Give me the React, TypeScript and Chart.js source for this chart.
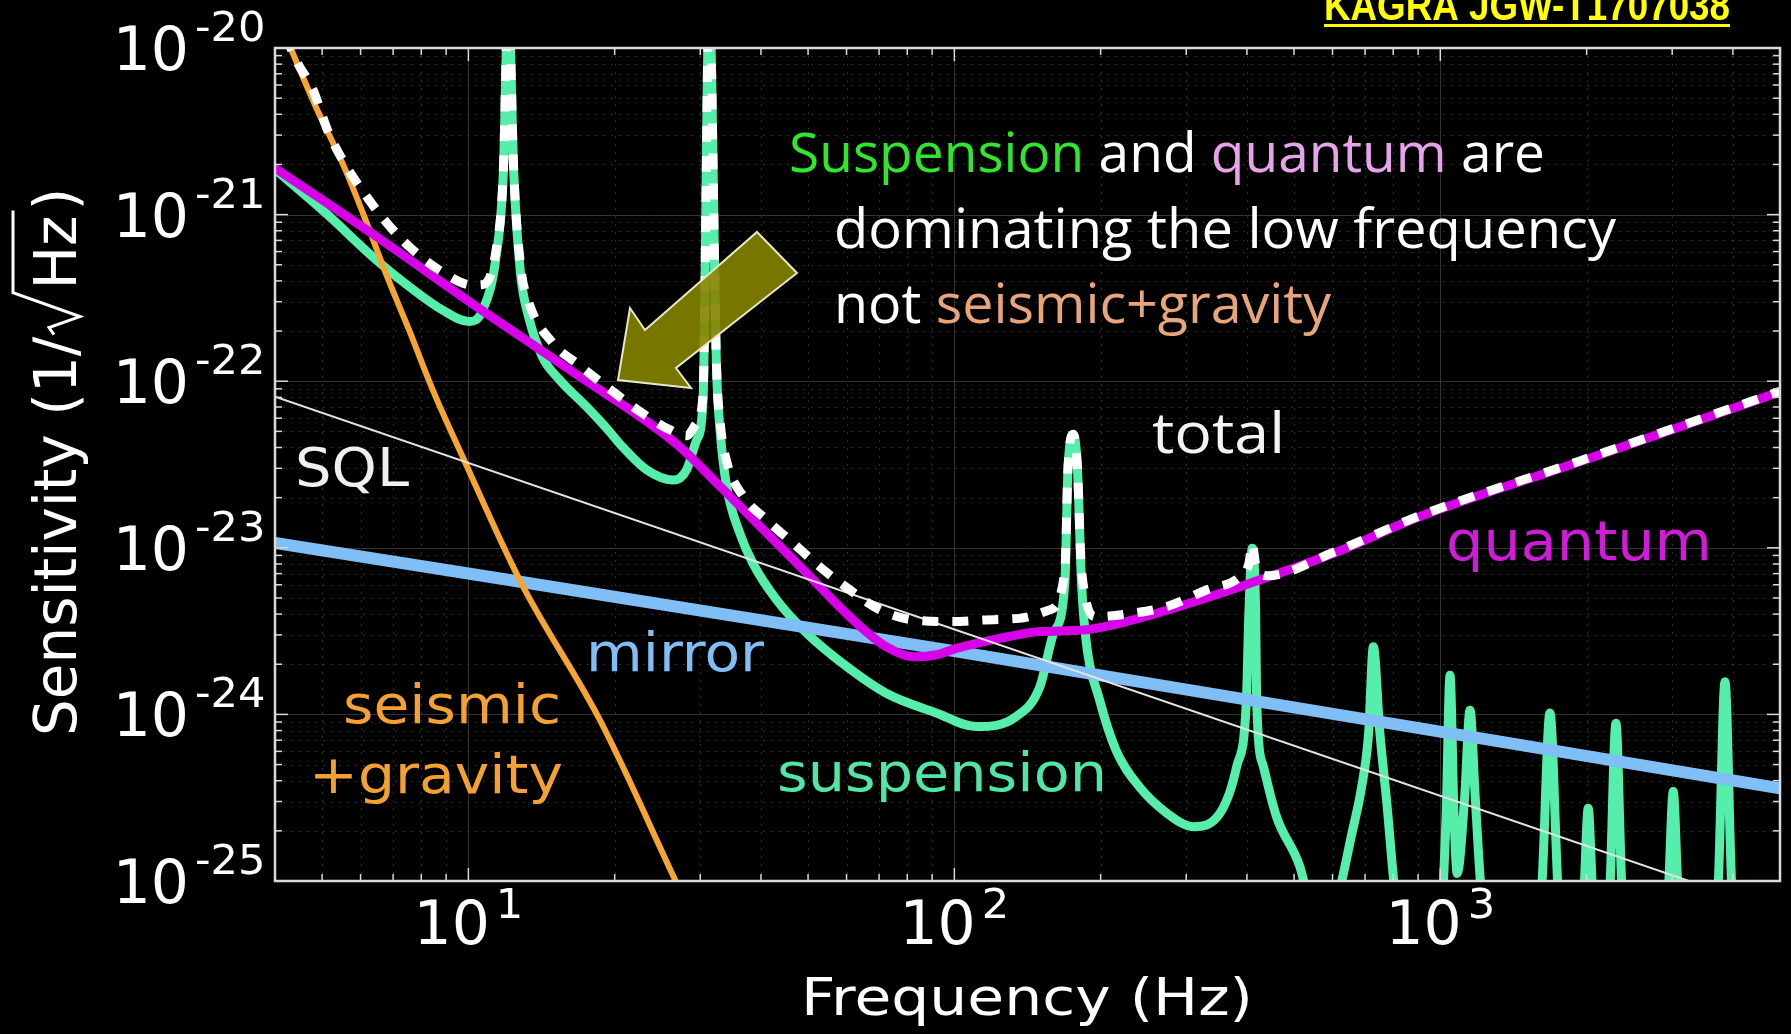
import React, { useEffect, useRef } from "react";
import { Chart, registerables } from "chart.js";

Chart.register(...registerables);

type Pt = [number, number];

// Axis limits: frequency in Hz, strain sensitivity in 1/sqrt(Hz)
const FREQ_MIN = 4;
const FREQ_MAX = 5000;
const SENS_MIN = 1e-25;
const SENS_MAX = 1e-20;

const xTickExponents = [1, 2, 3];
const yTickExponents = [-20, -21, -22, -23, -24, -25];

// Noise budget curves, [frequency (Hz), sensitivity (1/sqrt(Hz))]
const seismicGravity: Pt[] = [
  [4.0, 1.7e-20], [4.32, 9.8e-21], [4.85, 4.45e-21], [5.51, 2.03e-21], [6.11, 9.7e-22],
  [6.76, 4.45e-22], [7.55, 2.03e-22], [8.45, 8.85e-23], [9.73, 3.52e-23], [12.8, 6.27e-24],
  [18.7, 9.1e-25], [26.7, 1.0e-25], [31.6, 3.5e-26],
];

const quantum: Pt[] = [
  [4.0, 1.9e-21], [6.46, 7.4e-22], [10.4, 2.8e-22], [16.6, 1.11e-22], [26.7, 4.24e-23],
  [33.0, 2.33e-23], [40.5, 1.28e-23], [49.7, 7.03e-24], [61.9, 3.69e-24], [72.4, 2.55e-24],
  [82.2, 2.22e-24], [91.8, 2.28e-24], [101, 2.49e-24], [124, 2.86e-24], [150, 3.14e-24],
  [184, 3.21e-24], [233, 3.69e-24], [320, 4.86e-24], [406, 6.12e-24], [603, 9.27e-24],
  [908, 1.54e-23], [1936, 3.29e-23], [5000, 8.63e-23],
];

const suspension: Pt[] = [
  [4.0, 1.87e-21], [5.09, 1.02e-21], [6.46, 5.35e-22], [7.55, 3.7e-22], [8.85, 2.67e-22],
  [10.05, 2.28e-22], [10.7, 2.67e-22], [11.4, 5.58e-22], [11.8, 1.77e-21], [12.08, 2e-20],
  [12.4, 1.77e-21], [12.8, 4.45e-22], [13.3, 2.44e-22], [14.2, 1.4e-22], [15.4, 1.02e-22],
  [17.5, 7.03e-23], [19.5, 5.0e-23], [20.5, 4.2e-23], [23.3, 2.93e-23], [26.4, 2.55e-23],
  [28.1, 2.93e-23], [29.5, 4.44e-23], [30.4, 7.71e-23], [31.3, 2e-20], [32.4, 1.22e-22],
  [33.0, 4.86e-23], [34.0, 2.33e-23], [36.2, 1.22e-23], [38.5, 8.07e-24], [43.1, 4.86e-24],
  [49.7, 3.07e-24], [60.0, 1.94e-24], [72.4, 1.34e-24], [91.8, 1.02e-24], [111, 8.45e-25],
  [134, 9.7e-25], [150, 1.47e-24], [160, 3.07e-24], [168.8, 6.12e-24], [171.4, 3.07e-23],
  [175.8, 4.75e-23], [179.1, 3.07e-23], [182.7, 6.12e-24], [186.6, 2.8e-24], [199, 1.22e-24],
  [215, 6.12e-25], [240, 3.69e-25], [274, 2.55e-25], [310, 2.12e-25], [352, 2.55e-25],
  [381, 4.86e-25], [399, 1.22e-24], [403.6, 3.98e-24], [410.2, 9.93e-24], [416.9, 3.98e-24],
  [418.8, 1.22e-24], [432.5, 4.86e-25], [460, 2.44e-25], [514, 1.22e-25], [540, 7e-26],
  [575, 5e-26], [608, 7e-26], [658, 1.94e-25], [689, 3.69e-25], [712, 7.71e-25],
  [728, 2.55e-24], [751, 7.71e-25], [775, 3.07e-25], [813, 7e-26], [900, 3e-26],
  [1003, 6e-26], [1028, 2.5e-25], [1047, 1.72e-24], [1067, 2.5e-25], [1083, 1.11e-25],
  [1122, 3.16e-25], [1151, 1.06e-24], [1180, 3.16e-25], [1216, 8e-26], [1300, 3e-26],
  [1610, 8e-26], [1681, 1.02e-24], [1750, 8e-26], [1860, 3e-26],
  [1972, 8e-26], [2015, 2.73e-25], [2060, 8e-26], [2150, 3e-26],
  [2230, 8e-26], [2298, 8.85e-25], [2370, 8e-26], [2650, 3e-26],
  [2940, 8e-26], [3015, 3.44e-25], [3090, 8e-26], [3400, 3e-26],
  [3720, 8e-26], [3853, 1.57e-24], [3990, 8e-26], [4500, 3e-26], [5000, 3e-26],
];

const mirror: Pt[] = [
  [4, 1.07e-23], [100, 2.4e-24], [5000, 3.6e-25],
];

const sql: Pt[] = [
  [4, 8.07e-23], [5000, 6.5e-26],
];

const total: Pt[] = [
  [4.0, 1.75e-20], [4.42, 8.47e-21], [4.79, 5.6e-21], [5.13, 3.22e-21], [5.56, 2.03e-21],
  [6.11, 1.34e-21], [6.76, 9.08e-22], [7.55, 6.43e-22], [8.71, 4.65e-22], [10.2, 3.78e-22],
  [10.7, 3.8e-22], [11.4, 6.1e-22], [11.8, 1.8e-21], [12.08, 2e-20], [12.4, 1.8e-21],
  [12.8, 5.0e-22], [13.3, 3.0e-22], [14.9, 1.7e-22], [16.9, 1.25e-22], [19.5, 9.0e-23],
  [22.5, 6.6e-23], [26.0, 5.1e-23], [28.1, 4.7e-23], [29.5, 5.6e-23], [30.4, 8.4e-23],
  [31.3, 2e-20], [32.4, 1.25e-22], [33.0, 5.5e-23], [34.0, 3.3e-23], [36.8, 2.03e-23],
  [41.1, 1.47e-23], [46.7, 1.06e-23], [52.8, 7.71e-24], [61.0, 5.58e-24], [70.3, 4.24e-24],
  [82.2, 3.69e-24], [99.5, 3.61e-24], [116, 3.69e-24], [136, 3.77e-24], [157, 4.24e-24],
  [168.8, 7.3e-24], [171.4, 3.1e-23], [175.8, 4.8e-23], [179.1, 3.1e-23], [182.7, 7.3e-24],
  [196, 3.86e-24], [233, 4.05e-24], [274, 4.44e-24], [330, 5.58e-24], [387, 6.71e-24],
  [403.6, 8.0e-24], [410.2, 1.05e-23], [416.9, 8.0e-24], [440, 6.8e-24], [603, 9.4e-24],
  [908, 1.56e-23], [1936, 3.32e-23], [5000, 8.7e-23],
];

const COLORS = {
  total: "#FFFFFF",
  sql: "#E4E4E4",
  quantum: "#D800E8",
  seismic: "#F6A432",
  mirror: "#80BEF6",
  suspension: "#55EEAA",
};

const WIDTH = 1791;
const HEIGHT = 1034;

const toXY = (pts: Pt[]) => pts.map(([x, y]) => ({ x, y }));

function minorValues(lo: number, hi: number): number[] {
  const out: number[] = [];
  for (let e = Math.floor(Math.log10(lo)); e < Math.ceil(Math.log10(hi)); e++) {
    for (let m = 2; m <= 9; m++) {
      const v = m * Math.pow(10, e);
      if (v > lo * 1.0001 && v < hi * 0.9999) out.push(v);
    }
  }
  return out;
}

function drawParts(
  ctx: CanvasRenderingContext2D,
  parts: Array<[string, string]>,
  x: number,
  y: number,
  font: string,
  width?: number
) {
  ctx.save();
  ctx.font = font;
  ctx.textAlign = "left";
  ctx.textBaseline = "alphabetic";
  const whole = parts.map((p) => p[0]).join("");
  const natural = ctx.measureText(whole).width;
  const sx = width ? width / natural : 1;
  ctx.translate(x, y);
  ctx.scale(sx, 1);
  let cx = 0;
  for (const [t, c] of parts) {
    ctx.fillStyle = c;
    ctx.fillText(t, cx, 0);
    cx += ctx.measureText(t).width;
  }
  ctx.restore();
}

function drawGrid(chart: Chart) {
  const { ctx, chartArea: a } = chart;
  const xs = chart.scales.x;
  const ys = chart.scales.y;
  ctx.save();
  ctx.beginPath();
  ctx.rect(a.left, a.top, a.right - a.left, a.bottom - a.top);
  ctx.clip();
  ctx.lineWidth = 1;
  ctx.strokeStyle = "#2c2c2c";
  ctx.setLineDash([2, 6]);
  for (const v of minorValues(FREQ_MIN, FREQ_MAX)) {
    const px = Math.round(xs.getPixelForValue(v)) + 0.5;
    ctx.beginPath();
    ctx.moveTo(px, a.top);
    ctx.lineTo(px, a.bottom);
    ctx.stroke();
  }
  for (const v of minorValues(SENS_MIN, SENS_MAX)) {
    const py = Math.round(ys.getPixelForValue(v)) + 0.5;
    ctx.beginPath();
    ctx.moveTo(a.left, py);
    ctx.lineTo(a.right, py);
    ctx.stroke();
  }
  ctx.setLineDash([]);
  ctx.strokeStyle = "#333333";
  for (const e of xTickExponents) {
    const px = Math.round(xs.getPixelForValue(Math.pow(10, e))) + 0.5;
    ctx.beginPath();
    ctx.moveTo(px, a.top);
    ctx.lineTo(px, a.bottom);
    ctx.stroke();
  }
  for (const e of yTickExponents) {
    const py = Math.round(ys.getPixelForValue(Math.pow(10, e))) + 0.5;
    ctx.beginPath();
    ctx.moveTo(a.left, py);
    ctx.lineTo(a.right, py);
    ctx.stroke();
  }
  ctx.restore();
}

function drawFrame(chart: Chart) {
  const { ctx, chartArea: a } = chart;
  const xs = chart.scales.x;
  const ys = chart.scales.y;
  ctx.save();
  ctx.strokeStyle = "#dadada";
  ctx.lineWidth = 1.5;
  const tick = (x1: number, y1: number, x2: number, y2: number) => {
    ctx.beginPath();
    ctx.moveTo(x1, y1);
    ctx.lineTo(x2, y2);
    ctx.stroke();
  };
  for (const v of minorValues(FREQ_MIN, FREQ_MAX)) {
    const px = xs.getPixelForValue(v);
    tick(px, a.bottom, px, a.bottom - 7);
    tick(px, a.top, px, a.top + 7);
  }
  for (const e of xTickExponents) {
    const px = xs.getPixelForValue(Math.pow(10, e));
    tick(px, a.bottom, px, a.bottom - 13);
    tick(px, a.top, px, a.top + 13);
  }
  for (const v of minorValues(SENS_MIN, SENS_MAX)) {
    const py = ys.getPixelForValue(v);
    tick(a.left, py, a.left + 7, py);
    tick(a.right, py, a.right - 7, py);
  }
  for (const e of yTickExponents) {
    const py = ys.getPixelForValue(Math.pow(10, e));
    tick(a.left, py, a.left + 13, py);
    tick(a.right, py, a.right - 13, py);
  }
  ctx.lineWidth = 2.5;
  ctx.strokeRect(a.left, a.top, a.right - a.left, a.bottom - a.top);
  ctx.restore();
}

const MAIN_FONT = '60px "DejaVu Sans"';
const SUP_FONT = '40px "DejaVu Sans"';
const SUP_SX = 1.08;

function drawTickLabels(chart: Chart) {
  const { ctx } = chart;
  const xs = chart.scales.x;
  const ys = chart.scales.y;
  ctx.save();
  ctx.fillStyle = "#ffffff";
  ctx.textBaseline = "alphabetic";

  for (const e of yTickExponents) {
    const py = ys.getPixelForValue(Math.pow(10, e));
    ctx.font = MAIN_FONT;
    ctx.textAlign = "right";
    ctx.fillText("10", 189, py + 22);
    ctx.save();
    ctx.translate(195, py - 7);
    ctx.scale(SUP_SX, 1);
    ctx.font = SUP_FONT;
    ctx.textAlign = "left";
    ctx.fillText("-" + Math.abs(e), 0, 0);
    ctx.restore();
  }

  for (const e of xTickExponents) {
    const px = xs.getPixelForValue(Math.pow(10, e));
    ctx.font = MAIN_FONT;
    const w10 = ctx.measureText("10").width;
    ctx.font = SUP_FONT;
    const ws = ctx.measureText(String(e)).width * SUP_SX;
    const left = px - (w10 + 6 + ws) / 2;
    ctx.font = MAIN_FONT;
    ctx.textAlign = "left";
    ctx.fillText("10", left, 944);
    ctx.save();
    ctx.translate(left + w10 + 6, 918);
    ctx.scale(SUP_SX, 1);
    ctx.font = SUP_FONT;
    ctx.fillText(String(e), 0, 0);
    ctx.restore();
  }
  ctx.restore();
}

function drawTitles(chart: Chart) {
  const { ctx } = chart;
  // x axis title
  drawParts(ctx, [["Frequency (Hz)", "#ffffff"]], 801, 1015, '52px "DejaVu Sans"', 452);

  // y axis title with a radical over Hz
  ctx.save();
  ctx.translate(76, 462);
  ctx.rotate(-Math.PI / 2);
  ctx.font = '58px "DejaVu Sans"';
  ctx.fillStyle = "#ffffff";
  ctx.strokeStyle = "#ffffff";
  ctx.textAlign = "left";
  ctx.textBaseline = "alphabetic";
  const a = "Sensitivity (1/";
  const b = "Hz";
  const c = ")";
  const wa = ctx.measureText(a).width;
  const wb = ctx.measureText(b).width;
  const wc = ctx.measureText(c).width;
  const rad = 44;
  const full = wa + rad + wb + 8 + wc;
  let x = -full / 2;
  ctx.fillText(a, x, 0);
  x += wa;
  ctx.lineWidth = 3;
  ctx.lineJoin = "miter";
  ctx.beginPath();
  ctx.moveTo(x + 2, -22);
  ctx.lineTo(x + 9, -27);
  ctx.lineTo(x + 20, 4);
  ctx.lineTo(x + rad, -63);
  ctx.lineTo(x + rad + wb + 8, -63);
  ctx.stroke();
  x += rad + 3;
  ctx.fillText(b, x, 0);
  x += wb + 5;
  ctx.fillText(c, x, 0);
  ctx.restore();
}

function drawCurveLabels(chart: Chart) {
  const { ctx } = chart;
  const dv = '"DejaVu Sans"';
  drawParts(ctx, [["SQL", "#F0F0F0"]], 295, 486, `54px ${dv}`, 114);
  drawParts(ctx, [["mirror", COLORS.mirror]], 586, 671, `53px ${dv}`, 178);
  drawParts(ctx, [["seismic", "#F5A132"]], 343, 723, `54px ${dv}`, 218);
  drawParts(ctx, [["+gravity", "#F5A132"]], 309, 793, `54px ${dv}`, 254);
  drawParts(ctx, [["suspension", "#4FE6A6"]], 777, 791, `54px ${dv}`, 330);
  drawParts(ctx, [["quantum", "#D21ADB"]], 1446, 560, `55px ${dv}`, 266);
  drawParts(ctx, [["total", "#F4F4F4"]], 1152, 453, '56px "Open Sans"', 133);
}

function drawNote(chart: Chart) {
  const { ctx } = chart;
  const font = '54px "Open Sans"';
  drawParts(
    ctx,
    [
      ["Suspension", "#2EE82E"],
      [" and ", "#FFFFFF"],
      ["quantum", "#E7A3EA"],
      [" are", "#FFFFFF"],
    ],
    789,
    172,
    font,
    756
  );
  drawParts(ctx, [["dominating the low frequency", "#FFFFFF"]], 834, 248, font, 782);
  drawParts(
    ctx,
    [
      ["not ", "#FFFFFF"],
      ["seismic+gravity", "#E8A57A"],
    ],
    834,
    323,
    font,
    497
  );

  // block arrow pointing at the low-frequency region
  const arrow: Array<[number, number]> = [
    [757, 232], [797, 273], [676, 368], [691, 388], [618, 380], [630, 308], [645, 330],
  ];
  ctx.save();
  ctx.beginPath();
  arrow.forEach(([x, y], i) => (i === 0 ? ctx.moveTo(x, y) : ctx.lineTo(x, y)));
  ctx.closePath();
  ctx.fillStyle = "rgba(132,132,0,0.9)";
  ctx.fill();
  ctx.lineWidth = 2;
  ctx.strokeStyle = "#E6E6C8";
  ctx.lineJoin = "miter";
  ctx.stroke();
  ctx.restore();

  // document reference in the top-right corner
  drawParts(ctx, [["KAGRA JGW-T1707038", "#FFFF00"]], 1324, 20, 'bold 42px "Liberation Sans"', 406);
  ctx.save();
  ctx.fillStyle = "#FFFF00";
  ctx.fillRect(1324, 24, 406, 3);
  ctx.restore();
}

const decorPlugin = {
  id: "sensitivityDecor",
  beforeDatasetsDraw(chart: Chart) {
    drawGrid(chart);
  },
  afterDatasetsDraw(chart: Chart) {
    drawFrame(chart);
    drawTickLabels(chart);
    drawTitles(chart);
    drawCurveLabels(chart);
    drawNote(chart);
  },
};

const lineStyle = {
  fill: false,
  pointRadius: 0,
  pointHoverRadius: 0,
  cubicInterpolationMode: "monotone" as const,
  capBezierPoints: false,
  borderJoinStyle: "round" as const,
  borderCapStyle: "round" as const,
  clip: 0,
};

export default function App() {
  const canvasRef = useRef<HTMLCanvasElement>(null);

  useEffect(() => {
    const canvas = canvasRef.current;
    if (!canvas) return;
    const chart = new Chart(canvas, {
      type: "line",
      data: {
        datasets: [
          {
            label: "total",
            data: toXY(total),
            ...lineStyle,
            borderColor: COLORS.total,
            borderWidth: 9,
            borderDash: [16, 14],
            borderCapStyle: "butt",
          },
          { label: "SQL", data: toXY(sql), ...lineStyle, borderColor: COLORS.sql, borderWidth: 2 },
          { label: "quantum", data: toXY(quantum), ...lineStyle, borderColor: COLORS.quantum, borderWidth: 9 },
          {
            label: "seismic+gravity",
            data: toXY(seismicGravity),
            ...lineStyle,
            borderColor: COLORS.seismic,
            borderWidth: 6,
          },
          { label: "mirror", data: toXY(mirror), ...lineStyle, borderColor: COLORS.mirror, borderWidth: 12 },
          {
            label: "suspension",
            data: toXY(suspension),
            ...lineStyle,
            borderColor: COLORS.suspension,
            borderWidth: 9,
          },
        ],
      },
      options: {
        animation: false,
        responsive: false,
        maintainAspectRatio: false,
        devicePixelRatio: 1,
        events: [],
        layout: { padding: { left: 275, top: 48, right: WIDTH - 1780, bottom: HEIGHT - 881 } },
        plugins: {
          legend: { display: false },
          tooltip: { enabled: false },
          title: { display: false },
        },
        scales: {
          x: { type: "logarithmic", min: FREQ_MIN, max: FREQ_MAX, display: false },
          y: { type: "logarithmic", min: SENS_MIN, max: SENS_MAX, display: false },
        },
      },
      plugins: [decorPlugin],
    } as any);
    return () => {
      chart.destroy();
    };
  }, []);

  return (
    <div
      style={{
        position: "fixed",
        left: 0,
        top: 0,
        width: WIDTH,
        height: HEIGHT,
        background: "#000",
        overflow: "hidden",
      }}
    >
      <canvas
        ref={canvasRef}
        width={WIDTH}
        height={HEIGHT}
        style={{ display: "block", width: WIDTH, height: HEIGHT }}
      />
    </div>
  );
}
